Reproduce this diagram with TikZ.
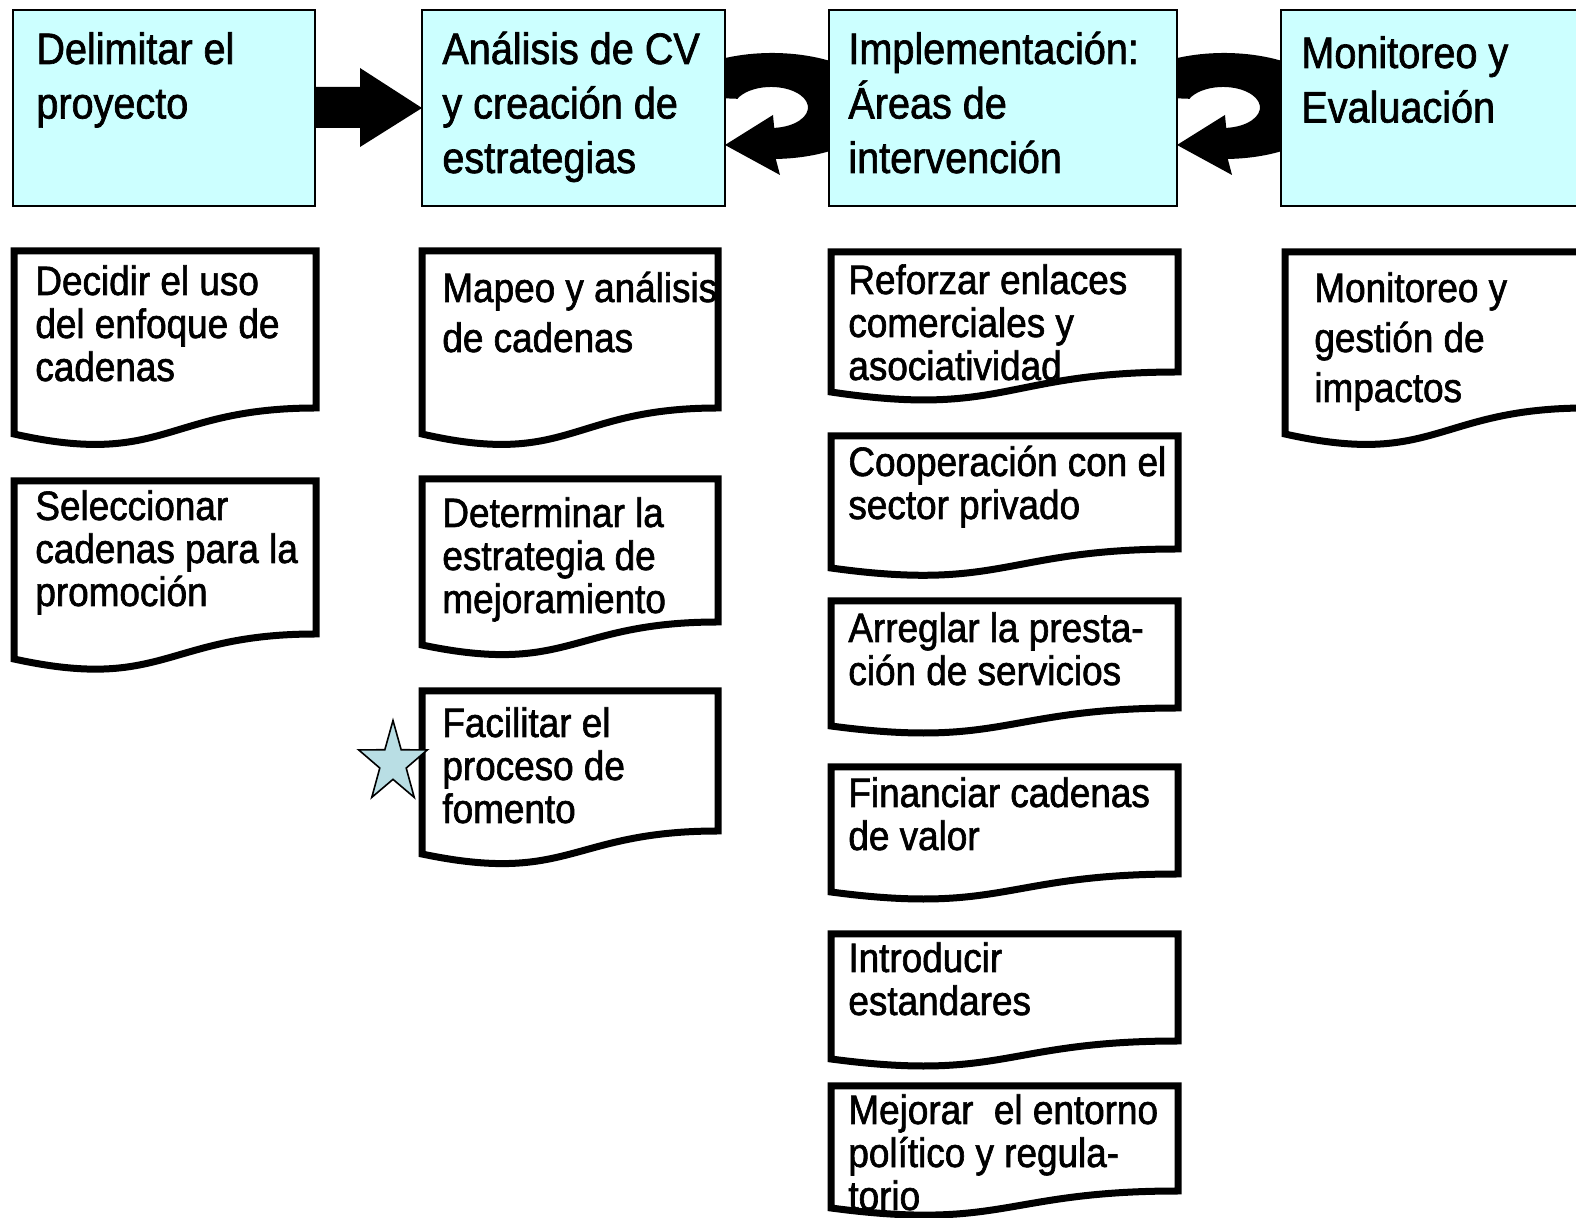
\documentclass[tikz,border=0pt]{standalone}
\usepackage{fontspec}
\setmainfont{Liberation Sans}[FakeStretch=0.9,FakeBold=1.5]
\usetikzlibrary{shapes.geometric,backgrounds,calc}
\definecolor{boxcyan}{RGB}{204,255,255}
\definecolor{starblue}{RGB}{185,222,228}
\newcommand\topfont{\fontsize{22}{27.25}\selectfont}
\newcommand\docfont{\fontsize{20.5}{21.5}\selectfont}
\newcommand\docfontwide{\fontsize{20.5}{25}\selectfont}
\tikzset{
  topbox/.style={draw, fill=boxcyan, line width=1pt, outer sep=0pt, inner sep=0pt, anchor=north west},
  docpage/.style={draw, fill=white, line width=3.5pt},
  toptext/.style={anchor=base west, inner sep=0pt, align=left, font=\topfont},
  doctext/.style={anchor=base west, inner sep=0pt, align=left, font=\docfont},
  bigarrow/.style={fill=black},
  starmark/.style={star, star points=5, star point ratio=2.6, draw, fill=starblue, line width=0.8pt, minimum size=42.5pt, inner sep=0pt, xscale=0.85}
}
\begin{document}
\begin{tikzpicture}[x=0.5pt,y=0.5pt,yscale=-1]
\useasboundingbox (0,0) rectangle (1576,1218);

%Shape: Rectangle [id:t1]
\node[topbox, minimum width=151pt, minimum height=98pt] (t1) at (13,10) {};
%Shape: Rectangle [id:t2]
\node[topbox, minimum width=151.5pt, minimum height=98pt] (t2) at (422,10) {};
%Shape: Rectangle [id:t3]
\node[topbox, minimum width=174pt, minimum height=98pt] (t3) at (829,10) {};
%Shape: Rectangle [id:t4]
\node[topbox, minimum width=160pt, minimum height=98pt] (t4) at (1281,10) {};

\begin{pgfonlayer}{background}
\fill[white] (0,0) rectangle (1576,1218);
%Shape: Right Arrow
\fill[bigarrow] ($(t1.east)+(-15,-21)$) -- ($(t1.east)+(45,-21)$) -- ($(t1.east)+(45,-40)$) -- (t2.west) -- ($(t1.east)+(45,39)$) -- ($(t1.east)+(45,20)$) -- ($(t1.east)+(-15,20)$) -- cycle;
%Shape: Circular Arrow
\foreach \src in {t2,t3}
  \fill[bigarrow] ($(\src.east)+(-48.3,-28.5)$) arc[start angle=-150, end angle=88, x radius=110, y radius=53] -- ($(\src.east)+(55,67)$) -- ($(\src.east)+(0,37)$) -- ($(\src.east)+(48,7)$) -- ($(\src.east)+(49.2,19.9)$) arc[start angle=85, end angle=-155, x radius=37, y radius=20.5] -- ($(\src.east)+(-35,-11)$) -- cycle;
\end{pgfonlayer}

%Shape: Document [id:d1]
\draw[docpage] (14,434) -- (14,251) -- (316,251) -- (316,408) .. controls (165,408) and (165,468) .. (14,434) -- cycle;
%Shape: Document [id:d2]
\draw[docpage] (14,659) -- (14,481) -- (316,481) -- (316,634) .. controls (165,634) and (165,692) .. (14,659) -- cycle;
%Shape: Document [id:d3]
\draw[docpage] (422,434) -- (422,251) -- (718,251) -- (718,408) .. controls (570,408) and (570,468) .. (422,434) -- cycle;
%Shape: Document [id:d4]
\draw[docpage] (422,645) -- (422,479) -- (718,479) -- (718,622) .. controls (570,622) and (570,676) .. (422,645) -- cycle;
%Shape: Document [id:d5]
\draw[docpage] (422,854) -- (422,691) -- (718,691) -- (718,831) .. controls (570,831) and (570,885) .. (422,854) -- cycle;
%Shape: Document [id:d6]
\draw[docpage] (831,392) -- (831,252) -- (1178,252) -- (1178,372) .. controls (1004,372) and (1004,418) .. (831,392) -- cycle;
%Shape: Document [id:d7]
\draw[docpage] (831,568) -- (831,436) -- (1178,436) -- (1178,549) .. controls (1004,549) and (1004,592) .. (831,568) -- cycle;
%Shape: Document [id:d8]
\draw[docpage] (831,726) -- (831,601) -- (1178,601) -- (1178,708) .. controls (1004,708) and (1004,749) .. (831,726) -- cycle;
%Shape: Document [id:d9]
\draw[docpage] (831,892) -- (831,767) -- (1178,767) -- (1178,874) .. controls (1004,874) and (1004,915) .. (831,892) -- cycle;
%Shape: Document [id:d10]
\draw[docpage] (831,1059) -- (831,934) -- (1178,934) -- (1178,1041) .. controls (1004,1041) and (1004,1082) .. (831,1059) -- cycle;
%Shape: Document [id:d11]
\draw[docpage] (831,1208) -- (831,1086) -- (1178,1086) -- (1178,1191) .. controls (1004,1191) and (1004,1231) .. (831,1208) -- cycle;
%Shape: Document [id:d12]
\draw[docpage] (1285,434) -- (1285,252) -- (1587,252) -- (1587,408) .. controls (1436,408) and (1436,468) .. (1285,434) -- cycle;

%Shape: Star
\node[starmark] (star) at (393,763) {};

% Text Node (anchored at the baseline of the last line)
\node[toptext] (t1txt) at (36,118.5) {Delimitar el\\proyecto};
% Text Node
\node[toptext] (t2txt) at (442,173) {Análisis de CV\\y creación de\\estrategias};
% Text Node
\node[toptext] (t3txt) at (848,173) {Implementación:\\Áreas de\\intervención};
% Text Node
\node[toptext] (t4txt) at (1301,122.5) {Monitoreo y\\Evaluación};
% Text Node
\node[doctext] (d1txt) at (35,381) {Decidir el uso\\del enfoque de\\cadenas};
% Text Node
\node[doctext] (d2txt) at (35,606) {Seleccionar\\cadenas para la\\promoción};
% Text Node
\node[doctext, font=\docfontwide] (d3txt) at (442,352) {Mapeo y análisis\\de cadenas};
% Text Node
\node[doctext] (d4txt) at (442,613) {Determinar la\\estrategia de\\mejoramiento};
% Text Node
\node[doctext] (d5txt) at (442,823) {Facilitar el\\proceso de\\fomento};
% Text Node
\node[doctext] (d6txt) at (848,380) {Reforzar enlaces\\comerciales y\\asociatividad};
% Text Node
\node[doctext] (d7txt) at (848,519) {Cooperación con el\\sector privado};
% Text Node
\node[doctext] (d8txt) at (848,685) {Arreglar la presta-\\ción de servicios};
% Text Node
\node[doctext] (d9txt) at (848,850) {Financiar cadenas\\de valor};
% Text Node
\node[doctext] (d10txt) at (848,1015) {Introducir\\estandares};
% Text Node
\node[doctext] (d11txt) at (848,1210) {Mejorar\ \ el entorno\\político y regula-\\torio};
% Text Node
\node[doctext, font=\docfontwide] (d12txt) at (1314,402) {Monitoreo y\\gestión de\\impactos};

\end{tikzpicture}
\end{document}
